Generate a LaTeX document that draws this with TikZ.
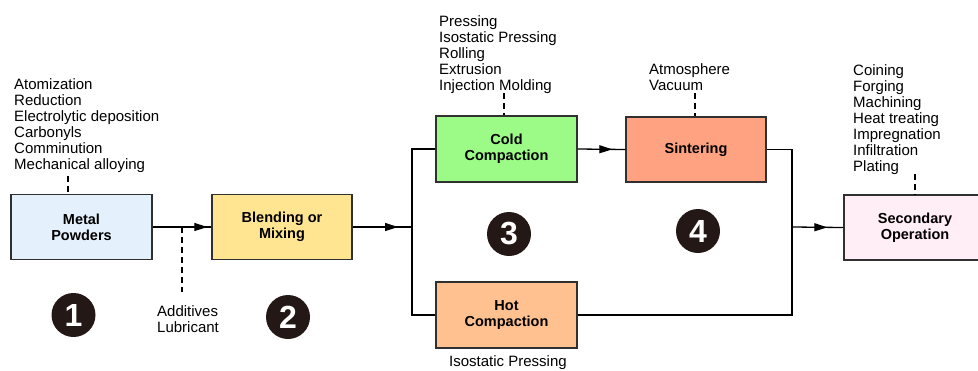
\documentclass[tikz,border=0pt]{standalone}
\usepackage{fontspec}
\setmainfont{Liberation Sans}
\usetikzlibrary{arrows.meta,decorations.markings}
\definecolor{boxline}{HTML}{303030}
\definecolor{cMetal}{HTML}{E4F1FD}
\definecolor{cBlend}{HTML}{FFE592}
\definecolor{cCold}{HTML}{9CFA86}
\definecolor{cSinter}{HTML}{FFA282}
\definecolor{cHot}{HTML}{FFC18F}
\definecolor{cSec}{HTML}{FFEEF5}
\definecolor{numbg}{HTML}{231815}
\tikzset{
  box/.style={draw=boxline, line width=1.4pt, minimum width=141pt, minimum height=65pt,
    align=center, inner sep=0pt, font=\bfseries\fontsize{14.5}{16}\selectfont},
  lst/.style={anchor=base west, align=left, inner sep=0pt, font=\fontsize{15}{16}\selectfont},
  conn/.style={line width=1.3pt, draw=black},
  dashline/.style={line width=1.3pt, dash pattern=on 6pt off 4pt},
  midarrow/.style={postaction={decorate}, decoration={markings,
    mark=at position #1 with {\arrow{Triangle[length=13pt,width=8pt]}}}},
  num/.style={circle, fill=numbg, text=white, minimum size=44pt, inner sep=0pt,
    font=\bfseries\fontsize{32}{32}\selectfont}
}
\begin{document}
\begin{tikzpicture}[x=1pt,y=-1pt]
\useasboundingbox[fill=white] (0,0) rectangle (978,370);

% boxes
\node[box, fill=cMetal] (metal) at (81.5,227) {Metal\\Powders};
\node[box, fill=cBlend, minimum width=140pt] (blend) at (282,227) {Blending or\\Mixing};
\node[box, fill=cCold, minimum height=66pt] (cold) at (506.5,149) {Cold\\Compaction};
\node[box, fill=cSinter, minimum width=140pt] (sinter) at (696,149.5) {Sintering};
\node[box, fill=cHot, minimum height=66pt] (hot) at (506.5,315) {Hot\\Compaction};
\node[box, fill=cSec, minimum width=142pt] (sec) at (915,227.5) {Secondary\\Operation};

% junction coordinates
\coordinate (jLt) at (412,149);
\coordinate (jL) at (412,227);
\coordinate (jLb) at (412,315);
\coordinate (jRt) at (792,149.5);
\coordinate (jR) at (792,227);
\coordinate (jRb) at (792,315);

% connectors
\draw[conn, midarrow=-4pt] (metal.east) -- (blend.west);
\draw[conn, midarrow=-14pt] (blend.east) -- (jL);
\draw[conn] (cold.west) -- (jLt) -- (jLb) -- (hot.west);
\draw[conn, midarrow=-13pt] (cold.east) -- (sinter.west);
\draw[conn] (sinter.east) -- (jRt) -- (jRb) -- (hot.east);
\draw[conn, midarrow=-16pt] (jR) -- (sec.west);

% dashed leaders
\coordinate (d1) at (68,176);
\draw[dashline] (d1) -- (d1 |- metal.north);
\coordinate (d2a) at (182,227);
\coordinate (d2b) at (182,292);
\draw[dashline] (d2a) -- (d2b);
\coordinate (d3) at (504,93);
\draw[dashline] (d3) -- (d3 |- cold.north);
\coordinate (d4) at (695,93);
\draw[dashline] (d4) -- (d4 |- sinter.north);
\coordinate (d5) at (915,174);
\draw[dashline] (d5) -- (d5 |- sec.north);

% labels (anchor = baseline of last line)
\node[lst] (lmetal) at (14,169.5) {Atomization\\Reduction\\Electrolytic deposition\\Carbonyls\\Comminution\\Mechanical alloying};
\node[lst] (ladd) at (157,332) {Additives\\Lubricant};
\node[lst] (lcold) at (439,90.5) {Pressing\\Isostatic Pressing\\Rolling\\Extrusion\\Injection Molding};
\node[lst] (lsinter) at (649,90) {Atmosphere\\Vacuum};
\node[lst] (lsec) at (853,171) {Coining\\Forging\\Machining\\Heat treating\\Impregnation\\Infiltration\\Plating};
\node[lst] (lhot) at (449,366) {Isostatic Pressing};

% step numbers
\node[num] (n1) at (73.5,315) {1};
\node[num] (n2) at (288,317) {2};
\node[num] (n3) at (509,234) {3};
\node[num] (n4) at (698,231) {4};
\end{tikzpicture}
\end{document}
